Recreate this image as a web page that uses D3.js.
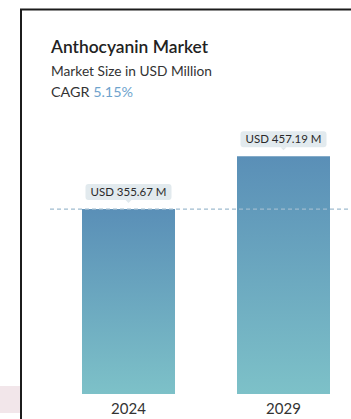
<!DOCTYPE html>
<html><head><meta charset="utf-8">
<script src="https://cdn.jsdelivr.net/npm/d3@7"></script>
<style>html,body{margin:0;padding:0;background:#fff;}svg{display:block;}</style>
</head><body>
<script>
const years = ["2024", "2029"];
const values = [355.67, 457.19];
const valueLabels = ["USD 355.67 M", "USD 457.19 M"];
const title = "Anthocyanin Market";
const subtitle = "Market Size in USD Million";
const cagrLabel = "CAGR";
const cagrValue = "5.15%";

const W = 351, H = 419;
const svg = d3.select("body").append("svg").attr("width", W).attr("height", H);
const font = "Lato, 'Open Sans', sans-serif";

// faint pink block left outside the frame
svg.append("rect").attr("x", 0).attr("y", 386).attr("width", 20).attr("height", 27).attr("fill", "#f2e6ea");

// frame
svg.append("path").attr("d", `M21,${H+5} L21,9.5 L${W+5},9.5`).attr("fill", "none").attr("stroke", "#1c1c1c").attr("stroke-width", 2);

const defs = svg.append("defs");
const grad = defs.append("linearGradient").attr("id", "barGrad").attr("x1", 0).attr("y1", 0).attr("x2", 0).attr("y2", 1);
grad.append("stop").attr("offset", "0%").attr("stop-color", "#5a8fb7");
grad.append("stop").attr("offset", "100%").attr("stop-color", "#7dc1c8");

const x = d3.scaleBand().domain(years).range([51, 361]).paddingInner(0.4).paddingOuter(0.2);
const y = d3.scaleLinear().domain([0, 500]).range([394, 134]);

// titles
svg.append("text").attr("x", 51).attr("y", 53).attr("font-family", font).attr("font-size", 16.5).attr("font-weight", 600).attr("fill", "#222")
  .attr("textLength", 157).attr("lengthAdjust", "spacingAndGlyphs").text(title);
svg.append("text").attr("x", 51).attr("y", 76).attr("font-family", font).attr("font-size", 13).attr("fill", "#333")
  .attr("textLength", 161).attr("lengthAdjust", "spacingAndGlyphs").text(subtitle);
const c = svg.append("text").attr("x", 51).attr("y", 97).attr("font-family", font).attr("font-size", 13).attr("fill", "#333")
  .attr("textLength", 82).attr("lengthAdjust", "spacingAndGlyphs");
c.append("tspan").text(cagrLabel + " ");
c.append("tspan").attr("fill", "#6ea3cd").text(cagrValue);

// bars
svg.selectAll("rect.bar").data(values).join("rect").attr("class", "bar")
  .attr("x", (d, i) => x(years[i])).attr("width", x.bandwidth())
  .attr("y", d => y(d)).attr("height", d => y(0) - y(d))
  .attr("fill", "url(#barGrad)");

// dashed reference line at first value
svg.append("line").attr("x1", 50).attr("x2", W).attr("y1", y(values[0])).attr("y2", y(values[0]))
  .attr("stroke", "#9fbcd0").attr("stroke-width", 1.2).attr("stroke-dasharray", "4,3");

// value labels
values.forEach((v, i) => {
  const cx = x(years[i]) + x.bandwidth() / 2;
  const bottom = y(v) - 9;
  const g = svg.append("g");
  const bw = 86, bh = 16;
  g.append("rect").attr("x", cx - bw / 2).attr("y", bottom - bh).attr("width", bw).attr("height", bh).attr("rx", 3).attr("fill", "#e2eaee");
  g.append("path").attr("d", `M${cx-3},${bottom} L${cx},${bottom+3} L${cx+3},${bottom} Z`).attr("fill", "#e2eaee");
  g.append("text").attr("x", cx).attr("y", bottom - 4).attr("text-anchor", "middle").attr("font-family", font).attr("font-size", 11.5).attr("fill", "#2a2a2a").text(valueLabels[i]);
});

// x axis labels
const ax = svg.append("g").attr("transform", `translate(0,${y(0)})`).call(d3.axisBottom(x).tickSize(0).tickPadding(9));
ax.select(".domain").remove();
ax.selectAll("text").attr("font-family", font).attr("font-size", 15).attr("fill", "#333");
</script>
</body></html>
